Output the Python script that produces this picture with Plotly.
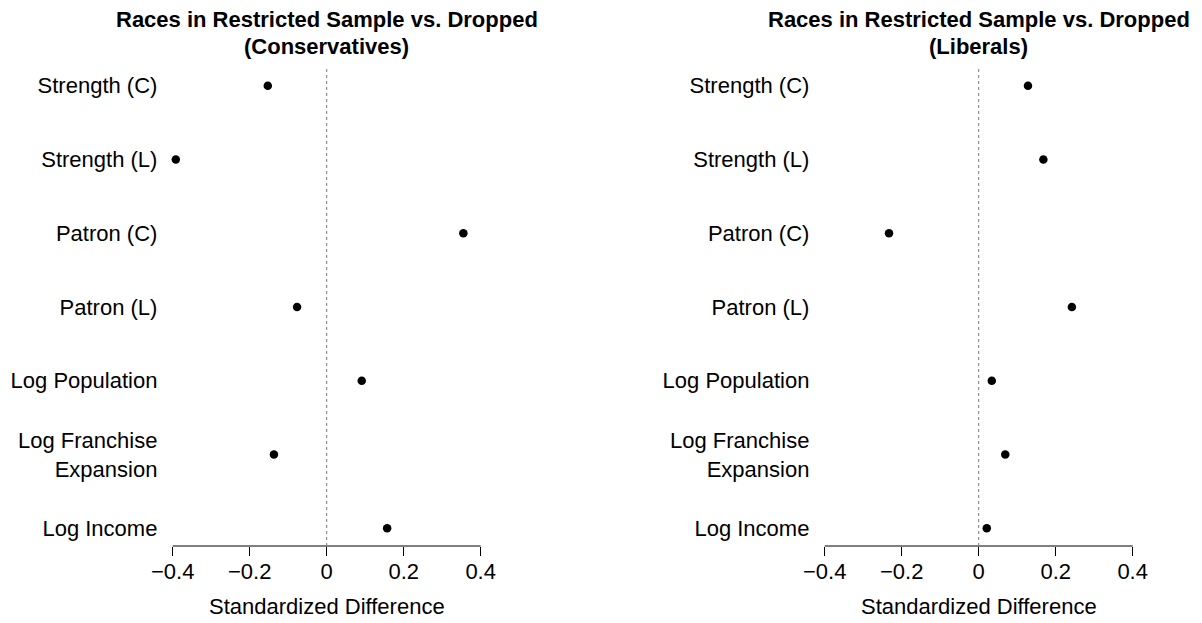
import plotly.graph_objects as go

categories = ["Strength (C)", "Strength (L)", "Patron (C)", "Patron (L)",
              "Log Population", "Log Franchise<br>Expansion", "Log Income"]
conservatives = [-0.153, -0.392, 0.355, -0.077, 0.091, -0.137, 0.157]
liberals = [0.128, 0.168, -0.233, 0.242, 0.034, 0.069, 0.021]
tick_vals = [-0.4, -0.2, 0, 0.2, 0.4]
tick_text = ["\u22120.4", "\u22120.2", "0", "0.2", "0.4"]
titles = [("Races in Restricted Sample vs. Dropped", "(Conservatives)"),
          ("Races in Restricted Sample vs. Dropped", "(Liberals)")]
xlabel = "Standardized Difference"

W, H = 1202, 623
FONT = "Liberation Sans, Arial, Helvetica, sans-serif"
FS = 22

# pixel layout
plot_top, plot_bot = 68, 546
doms_px = [(160.4, 493.0), (812.4, 1145.0)]
ydom = [1 - plot_bot / H, 1 - plot_top / H]
xdoms = [[a / W, b / W] for a, b in doms_px]

fig = go.Figure()
ylist = list(reversed(categories))
for i, vals in enumerate([conservatives, liberals]):
    sfx = "" if i == 0 else str(i + 1)
    fig.add_trace(go.Scatter(
        x=vals, y=categories, mode="markers",
        marker=dict(color="black", size=8.5, line=dict(width=0)),
        xaxis="x" + sfx, yaxis="y" + sfx, showlegend=False, cliponaxis=False))

common_x = dict(range=[-0.432, 0.432], tickvals=tick_vals, ticktext=tick_text,
                ticks="outside", ticklen=9, tickwidth=1, tickcolor="black",
                showgrid=False, zeroline=False, showline=False, automargin=False,
                ticklabelstandoff=-3,
                tickfont=dict(family=FONT, size=FS, color="black"), fixedrange=True)
common_y = dict(type="category", categoryorder="array", categoryarray=ylist,
                range=[-0.24, 6.24], showgrid=False, zeroline=False, showline=False,
                ticks="", automargin=False, ticklabelstandoff=2,
                tickfont=dict(family=FONT, size=FS, color="black"),
                fixedrange=True)

layout = dict(width=W, height=H, margin=dict(l=0, r=0, t=0, b=0, autoexpand=False),
              plot_bgcolor="white", paper_bgcolor="white",
              font=dict(family=FONT, size=FS, color="black"))
layout["xaxis"] = dict(domain=xdoms[0], anchor="y", **common_x)
layout["yaxis"] = dict(domain=ydom, anchor="x", **common_y)
layout["xaxis2"] = dict(domain=xdoms[1], anchor="y2", **common_x)
layout["yaxis2"] = dict(domain=ydom, anchor="x2", **common_y)
fig.update_layout(**layout)

shapes = []
annotations = []
for i in range(2):
    sfx = "" if i == 0 else str(i + 1)
    # axis line from first to last tick
    shapes.append(dict(type="line", xref="x" + sfx, yref="paper",
                       x0=tick_vals[0], x1=tick_vals[-1], y0=ydom[0], y1=ydom[0],
                       line=dict(color="black", width=1)))
    # dotted zero line
    shapes.append(dict(type="line", xref="x" + sfx, yref="paper",
                       x0=0, x1=0, y0=ydom[0], y1=ydom[1],
                       line=dict(color="#7a7a7a", width=1, dash="3px,3px")))
    cx = (xdoms[i][0] + xdoms[i][1]) / 2
    annotations.append(dict(text="<b>%s</b>" % titles[i][0], xref="paper", yref="paper",
                            x=cx, y=1 - 20 / H, xanchor="center", yanchor="middle",
                            showarrow=False, font=dict(family=FONT, size=FS)))
    annotations.append(dict(text="<b>%s</b>" % titles[i][1], xref="paper", yref="paper",
                            x=cx, y=1 - 47 / H, xanchor="center", yanchor="middle",
                            showarrow=False, font=dict(family=FONT, size=FS)))
    annotations.append(dict(text=xlabel, xref="paper", yref="paper",
                            x=cx, y=1 - 606 / H, xanchor="center", yanchor="middle",
                            showarrow=False, font=dict(family=FONT, size=FS)))
fig.update_layout(shapes=shapes, annotations=annotations)

fig.write_html("out.html")
